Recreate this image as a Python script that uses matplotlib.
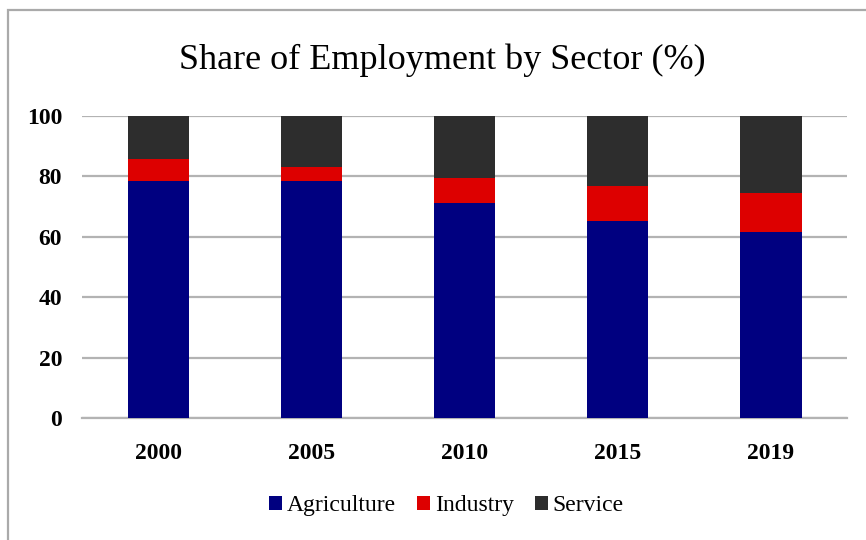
import numpy as np
import matplotlib.pyplot as plt
from matplotlib.patches import Rectangle

# Share of employment by sector, percent of total
years = ["2000", "2005", "2010", "2015", "2019"]
agriculture = [78.5, 78.5, 71.1, 65.1, 61.4]
industry = [7.0, 4.6, 8.4, 11.6, 12.9]
service = [14.5, 16.9, 20.5, 23.3, 25.7]

COLORS = {"Agriculture": "#000080", "Industry": "#dd0000", "Service": "#2d2d2d"}

plt.rcParams["font.family"] = ["Liberation Serif", "DejaVu Serif"]

fig = plt.figure(figsize=(8.66, 5.40), dpi=100)
ax = fig.add_axes([0.0943, 0.2254, 0.8843, 0.5607])

x = np.arange(len(years))
width = 0.4
bottom = np.zeros(len(years))
for name, vals in [("Agriculture", agriculture), ("Industry", industry), ("Service", service)]:
    ax.bar(x, vals, width, bottom=bottom, color=COLORS[name], label=name, zorder=3)
    bottom += np.array(vals)

ax.set_xlim(-0.5, len(years) - 0.5)
ax.set_ylim(0, 100)
ax.set_yticks(range(0, 101, 20))
ax.set_xticks(x)
ax.set_xticklabels(years)
ax.yaxis.grid(True, color="#b3b3b3", linewidth=1.6, zorder=0)
ax.set_axisbelow(True)
for s in ["top", "right", "left"]:
    ax.spines[s].set_visible(False)
ax.spines["bottom"].set_color("#b3b3b3")
ax.spines["bottom"].set_linewidth(1.6)
ax.tick_params(axis="both", length=0, labelsize=17)
ax.tick_params(axis="y", pad=14)
ax.tick_params(axis="x", pad=18)
for lbl in ax.get_xticklabels() + ax.get_yticklabels():
    lbl.set_fontweight("bold")

fig.text(0.511, 0.889, "Share of Employment by Sector (%)", ha="center", va="center", fontsize=26)

ax.legend(loc="center", bbox_to_anchor=(0.5156, 0.063), bbox_transform=fig.transFigure,
          ncol=3, frameon=False, fontsize=17, handlelength=0.55, handleheight=0.55,
          handletextpad=0.2, columnspacing=0.9)

# chart area border
fig.patches.append(Rectangle((8 / 866, -0.1), 1.2, 1 - 10 / 540 + 0.1, transform=fig.transFigure,
                             fill=False, edgecolor="#aaaaaa", linewidth=1.6))

fig.savefig("out.png", dpi=100)
